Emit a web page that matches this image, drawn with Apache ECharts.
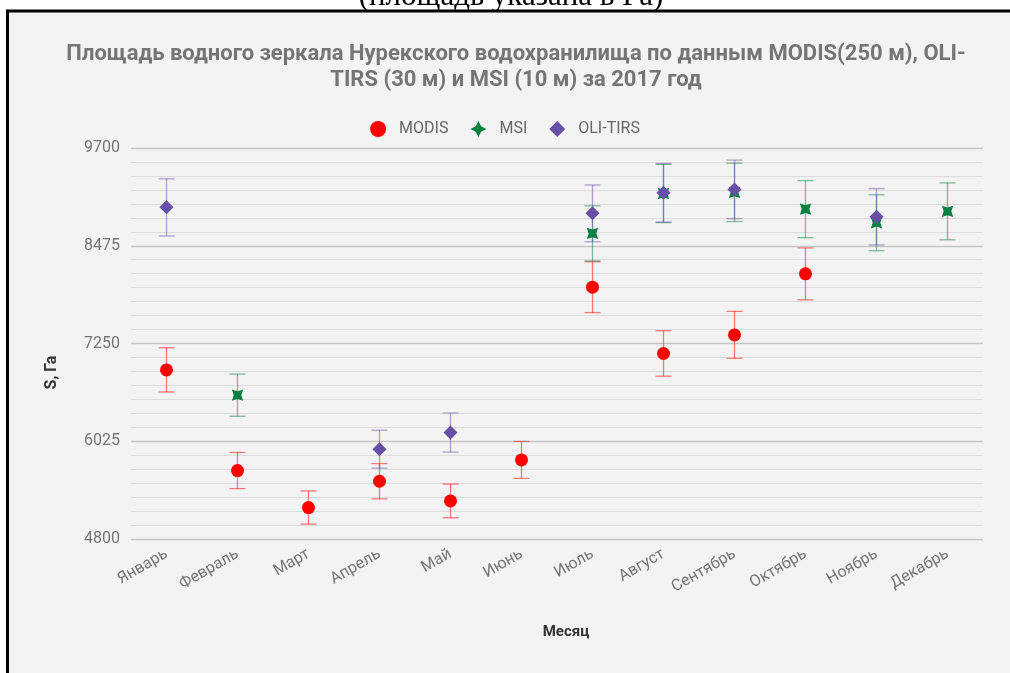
<!DOCTYPE html>
<html>
<head>
<meta charset="utf-8">
<script src="https://cdn.jsdelivr.net/npm/echarts@6/dist/echarts.min.js"></script>
<style>
  html, body { margin: 0; padding: 0; background: #ffffff; }
  #chart { width: 1010px; height: 673px; }
</style>
</head>
<body>
<div id="chart"></div>
<script>
// Months on the category axis
const months = ['Январь', 'Февраль', 'Март', 'Апрель', 'Май', 'Июнь',
                'Июль', 'Август', 'Сентябрь', 'Октябрь', 'Ноябрь', 'Декабрь'];

// Water surface area, ha (null = no scene for that month)
const modis   = [6919, 5658, 5194, 5524, 5277, 5791, 7956, 7125, 7358, 8123, null, null];
const msi     = [null, 6602, null, null, null, null, 8630, 9130, 9144, 8934, 8763, 8906];
const oliTirs = [8956, null, null, 5925, 6134, null, 8881, 9139, 9181, null, 8838, null];

// Error bars are drawn as a percentage of each value
const errorPercent = 4;

// Y axis scale
const yMin = 4800;
const yMax = 9700;
const yStep = 1225;

const colors = {
  modis: '#ff0000',
  msi: '#0b8043',
  oli: '#674ea7'
};

// Four-pointed star, turned 45 degrees to read as an "x"
const crossSymbol = 'path://M0,-10 L3.4,-3.4 L10,0 L3.4,3.4 L0,10 L-3.4,3.4 L-10,0 L-3.4,-3.4 Z';

function errorData(values) {
  const out = [];
  values.forEach(function (v, i) {
    if (v == null) return;
    const d = v * errorPercent / 100;
    out.push([i, v - d, v + d]);
  });
  return out;
}

function errorSeries(name, values, color) {
  return {
    name: name,
    type: 'custom',
    z: 1,
    silent: true,
    data: errorData(values),
    encode: { x: 0, y: [1, 2] },
    renderItem: function (params, api) {
      const x = api.value(0);
      const lo = api.coord([x, api.value(1)]);
      const hi = api.coord([x, api.value(2)]);
      const half = 8;
      const style = { stroke: color, lineWidth: 1.3, opacity: 0.5 };
      return {
        type: 'group',
        children: [
          { type: 'line', shape: { x1: lo[0], y1: lo[1], x2: hi[0], y2: hi[1] }, style: style },
          { type: 'line', shape: { x1: hi[0] - half, y1: hi[1], x2: hi[0] + half, y2: hi[1] }, style: style },
          { type: 'line', shape: { x1: lo[0] - half, y1: lo[1], x2: lo[0] + half, y2: lo[1] }, style: style }
        ]
      };
    }
  };
}

function pointSeries(name, values, color, symbol, size, rotate) {
  return {
    name: name,
    type: 'scatter',
    z: 3,
    symbol: symbol,
    symbolSize: size,
    symbolRotate: rotate || 0,
    itemStyle: { color: color, opacity: 1 },
    data: values.map(function (v, i) { return v == null ? null : [i, v]; }).filter(function (d) { return d; })
  };
}

const chart = echarts.init(document.getElementById('chart'), null, { renderer: 'canvas' });

chart.setOption({
  backgroundColor: '#ffffff',
  animation: false,
  textStyle: { fontFamily: 'Roboto' },
  graphic: [
    {
      type: 'rect',
      z: -10,
      silent: true,
      shape: { x: 7.5, y: 11, width: 1020, height: 680 },
      style: { fill: '#f3f3f3', stroke: '#000000', lineWidth: 3 }
    },
    {
      type: 'text',
      z: -5,
      silent: true,
      x: 511,
      y: -19,
      style: {
        text: '(площадь указана в Га)',
        font: '31px "Liberation Serif"',
        fill: '#000000',
        align: 'center',
        verticalAlign: 'top'
      }
    }
  ],
  title: {
    text: 'Площадь водного зеркала Нурекского водохранилища по данным MODIS(250 м), OLI-\nTIRS (30 м) и MSI (10 м) за 2017 год',
    left: 511,
    top: 36,
    textAlign: 'center',
    textStyle: {
      fontFamily: 'Roboto',
      fontWeight: 'bold',
      fontSize: 22,
      lineHeight: 26,
      color: '#757575'
    }
  },
  legend: {
    top: 116,
    left: 'center',
    itemWidth: 16,
    itemHeight: 16,
    itemGap: 22,
    data: ['MODIS', 'MSI', 'OLI-TIRS'],
    textStyle: { fontFamily: 'Roboto', fontSize: 16, color: '#666666', padding: [0, 0, 0, 8] }
  },
  grid: {
    left: 131,
    right: 27,
    top: 148,
    bottom: 134,
    containLabel: false
  },
  xAxis: {
    type: 'category',
    data: months,
    boundaryGap: true,
    name: 'Месяц',
    nameLocation: 'middle',
    nameGap: 86,
    nameTextStyle: { fontFamily: 'Roboto', fontWeight: 'bold', fontSize: 15, color: '#333333', padding: [0, 0, 0, 18] },
    axisLine: { show: false },
    axisTick: { show: false },
    axisLabel: {
      rotate: 30,
      margin: 14,
      fontFamily: 'Roboto',
      fontSize: 16,
      color: '#757575',
      interval: 0
    },
    splitLine: { show: false }
  },
  yAxis: {
    type: 'value',
    min: yMin,
    max: yMax,
    interval: yStep,
    name: 'S, Га',
    nameLocation: 'middle',
    nameGap: 71,
    nameRotate: 90,
    nameTextStyle: { fontFamily: 'Roboto', fontWeight: 'bold', fontSize: 16, color: '#333333', padding: [0, 58, 0, 0] },
    axisLine: { show: false },
    axisTick: { show: false },
    axisLabel: {
      fontFamily: 'Roboto',
      fontSize: 16,
      color: '#757575',
      margin: 11,
      formatter: function (v) { return String(v); }
    },
    splitLine: { show: true, lineStyle: { color: '#c6c6c6', width: 1.3 } },
    minorTick: { show: false, splitNumber: 7 },
    minorSplitLine: { show: true, lineStyle: { color: '#dcdcdc', width: 1 } }
  },
  series: [
    errorSeries('MODIS error', modis, colors.modis),
    errorSeries('MSI error', msi, colors.msi),
    errorSeries('OLI-TIRS error', oliTirs, colors.oli),
    pointSeries('MODIS', modis, colors.modis, 'circle', 13),
    pointSeries('MSI', msi, colors.msi, crossSymbol, 16, 45),
    pointSeries('OLI-TIRS', oliTirs, colors.oli, 'diamond', 14)
  ]
});
</script>
</body>
</html>
